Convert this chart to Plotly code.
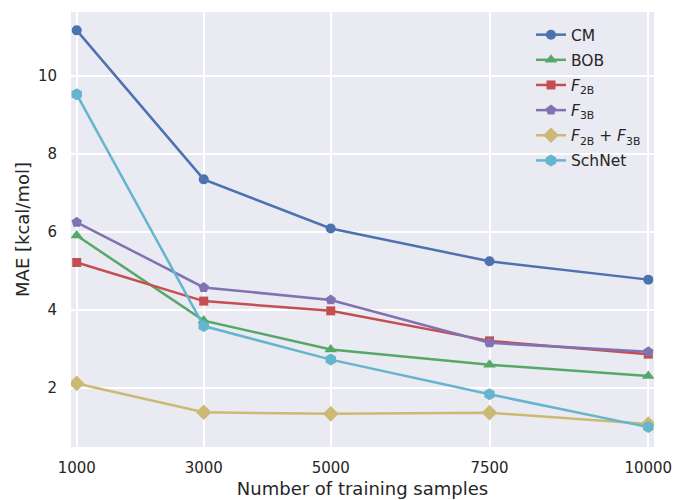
import plotly.graph_objects as go

samples = [1000, 3000, 5000, 7500, 10000]
cm = [11.16, 7.34, 6.08, 5.24, 4.77]
bob = [5.90, 3.72, 2.98, 2.59, 2.30]
f2b = [5.21, 4.22, 3.97, 3.20, 2.86]
f3b = [6.24, 4.57, 4.25, 3.15, 2.92]
f2b_f3b = [2.11, 1.37, 1.33, 1.36, 1.07]
schnet = [9.52, 3.58, 2.72, 1.83, 0.99]

series = [
    ("CM", cm, "#4C72B0", "circle", 10),
    ("BOB", bob, "#55A868", "triangle-up", 11),
    ("<i>F</i><sub>2B</sub>", f2b, "#C44E52", "square", 9),
    ("<i>F</i><sub>3B</sub>", f3b, "#8172B2", "pentagon", 11),
    ("<i>F</i><sub>2B</sub> + <i>F</i><sub>3B</sub>", f2b_f3b, "#CCB974", "diamond", 12),
    ("SchNet", schnet, "#64B5CD", "hexagon", 12),
]

fig = go.Figure()
for i, (name, vals, color, sym, size) in enumerate(series):
    fig.add_trace(go.Scatter(
        x=samples, y=vals, name=name, mode="lines+markers",
        line=dict(color=color, width=2.5),
        marker=dict(symbol=sym, size=size, color=color, line=dict(width=0)),
        legendgroup=f"g{i}",
    ))

font_color = "#262626"
fig.update_layout(
    width=677, height=500,
    margin=dict(l=71, r=23, t=12, b=53, autoexpand=False),
    paper_bgcolor="white",
    plot_bgcolor="#EAEAF2",
    font=dict(family="DejaVu Sans", color=font_color, size=15),
    showlegend=True,
    legend=dict(
        x=0.789, y=0.986, xanchor="left", yanchor="top",
        bgcolor="rgba(0,0,0,0)", borderwidth=0,
        font=dict(size=15.5, color=font_color),
        tracegroupgap=2,
    ),
    xaxis=dict(
        range=[910, 10090], tickvals=samples, ticktext=[str(s) for s in samples],
        showgrid=True, gridcolor="white", gridwidth=1.5, zeroline=False,
        ticks="outside", ticklen=7, tickcolor="rgba(0,0,0,0)",
        tickfont=dict(size=15), automargin=False,
        title=dict(text="Number of training samples", font=dict(size=18), standoff=6),
        showline=False,
    ),
    yaxis=dict(
        range=[0.48, 11.63], tickvals=[2, 4, 6, 8, 10],
        showgrid=True, gridcolor="white", gridwidth=1.5, zeroline=False,
        ticks="outside", ticklen=10, tickcolor="rgba(0,0,0,0)",
        tickfont=dict(size=15), automargin=False,
        title=dict(text="MAE [kcal/mol]", font=dict(size=18), standoff=3),
        showline=False,
    ),
)

fig.write_html(
    "out.html",
    config={"displayModeBar": False},
    post_script="document.body.style.margin='0';document.body.style.overflow='hidden';",
)
